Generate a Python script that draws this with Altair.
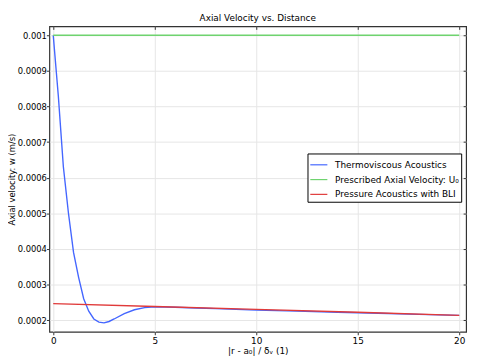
import altair as alt
import pandas as pd

# Thermoviscous Acoustics (blue)
x_tv = [0, 0.25, 0.5, 0.75, 1.0, 1.25, 1.5, 1.75, 2.0, 2.25, 2.5, 2.75, 3.0, 3.5, 4.0, 4.5, 5.0,
        6, 7, 8, 10, 12, 14, 16, 18, 20]
y_tv = [0.001, 0.00083, 0.00063, 0.0005, 0.00039, 0.00032, 0.00026, 0.000225, 0.000203, 0.000194,
        0.000192, 0.000196, 0.000203, 0.000218, 0.000229, 0.000235, 0.000237,
        0.000236, 0.000234, 0.000232, 0.000228, 0.000225, 0.000222, 0.000219, 0.000216, 0.000213]

# Prescribed Axial Velocity (green)
x_pr = [0, 20]
y_pr = [0.001, 0.001]

# Pressure Acoustics with BLI (red)
x_pa = [0, 5, 10, 15, 20]
y_pa = [0.000246, 0.000238, 0.00023, 0.000222, 0.000213]

series = ["Thermoviscous Acoustics", "Prescribed Axial Velocity: U₀", "Pressure Acoustics with BLI"]
colors = ["#4466ff", "#6fd36f", "#e03a3a"]

x_ticks = [0, 5, 10, 15, 20]
y_ticks = [0.0002, 0.0003, 0.0004, 0.0005, 0.0006, 0.0007, 0.0008, 0.0009, 0.001]

rows = []
for name, xs, ys in zip(series, [x_tv, x_pr, x_pa], [y_tv, y_pr, y_pa]):
    for i, (a, b) in enumerate(zip(xs, ys)):
        rows.append({"series": name, "x": a, "y": b, "order": i})
df = pd.DataFrame(rows)

font = "DejaVu Sans"
W, H = 423, 310
xscale = alt.Scale(domain=[-0.19, 20.34], nice=False, zero=False)
yscale = alt.Scale(domain=[0.000167, 0.001025], nice=False, zero=False)

base = alt.Chart(df)

lines = base.mark_line(strokeWidth=1.4, clip=True).encode(
    x=alt.X("x:Q", scale=xscale,
            axis=alt.Axis(title="|r - a₀| / δᵥ (1)", values=x_ticks, format="d",
                          grid=True, gridColor="#e6e6e6", tickColor="#333", domain=False,
                          tickSize=3, labelFontSize=9, titleFontSize=9, titleFontWeight="normal",
                          labelFont=font, titleFont=font, labelColor="#000", titleColor="#000",
                          labelPadding=2, titlePadding=1)),
    y=alt.Y("y:Q", scale=yscale,
            axis=alt.Axis(title="Axial velocity: w (m/s)", values=y_ticks,
                          labelExpr="format(datum.value, '.4~f')",
                          grid=True, gridColor="#e6e6e6", tickColor="#333", domain=False,
                          tickSize=3, labelFontSize=8.5, titleFontSize=8.5, titleFontWeight="normal",
                          labelFont=font, titleFont=font, labelColor="#000", titleColor="#000",
                          labelPadding=0, titlePadding=1)),
    color=alt.Color("series:N", scale=alt.Scale(domain=series, range=colors),
                    legend=alt.Legend(title=None, orient="none", legendX=262, legendY=129,
                                      fillColor="white", strokeColor="#000", padding=2,
                                      symbolType="stroke", symbolStrokeWidth=1.2, symbolSize=300,
                                      labelFontSize=9, labelFont=font, labelColor="#000",
                                      rowPadding=0, labelOffset=7)),
    order="order:Q",
)

mirror = base.mark_point(opacity=0).encode(
    x=alt.X("x:Q", scale=xscale,
            axis=alt.Axis(orient="bottom", offset=-H, values=x_ticks, labels=False, title=None,
                          grid=False, domain=False, tickColor="#333", tickSize=3)),
    y=alt.Y("y:Q", scale=yscale,
            axis=alt.Axis(orient="left", offset=-W, values=y_ticks,
                          labels=False, title=None, grid=False, domain=False,
                          tickColor="#333", tickSize=3)),
)

chart = alt.layer(lines, mirror).resolve_axis(x="independent", y="independent").properties(
    width=W, height=H,
    autosize=alt.AutoSizeParams(type="none"),
    padding={"left": 42, "top": 16, "right": 8, "bottom": 29},
    title=alt.TitleParams("Axial Velocity vs. Distance", fontSize=9, font=font,
                          fontWeight="normal", color="#000", offset=3),
).configure_view(stroke="#333", strokeWidth=1.2)

chart.save("out.html", embed_options={"renderer": "svg", "actions": False})
